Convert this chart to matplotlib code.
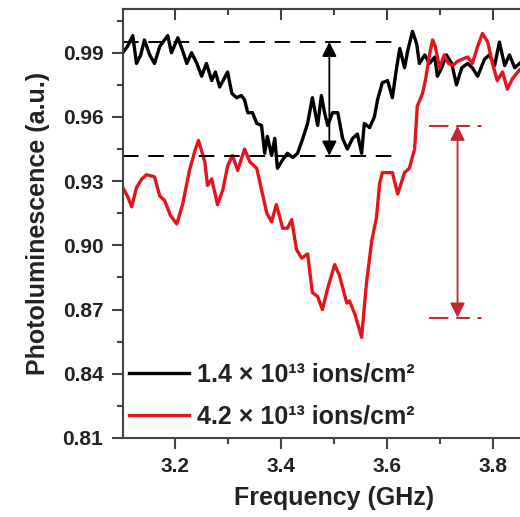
import matplotlib
matplotlib.use('Agg')
import matplotlib.pyplot as plt
from matplotlib.ticker import MultipleLocator

plt.rcParams['font.family'] = ['Liberation Sans', 'DejaVu Sans']
plt.rcParams['font.weight'] = 'bold'

freq_low = [3.102, 3.111, 3.121, 3.128, 3.136, 3.143, 3.153, 3.162, 3.172, 3.181,
            3.187, 3.194, 3.206, 3.215, 3.223, 3.232, 3.242, 3.251, 3.260, 3.270,
            3.277, 3.285, 3.300, 3.308, 3.317, 3.326, 3.332, 3.338, 3.347, 3.355,
            3.364, 3.370, 3.375, 3.383, 3.389, 3.394, 3.404, 3.413, 3.423, 3.432,
            3.442, 3.451, 3.460, 3.470, 3.477, 3.483, 3.489, 3.498, 3.508, 3.517,
            3.526, 3.536, 3.545, 3.553, 3.558, 3.568, 3.577, 3.583, 3.592, 3.602,
            3.611, 3.619, 3.625, 3.634, 3.640, 3.649, 3.657, 3.662, 3.672, 3.681,
            3.691, 3.696, 3.704, 3.713, 3.723, 3.732, 3.742, 3.753, 3.762, 3.772,
            3.785, 3.794, 3.804, 3.813, 3.823, 3.832, 3.842, 3.851]
pl_low = [0.990, 0.993, 0.998, 0.985, 0.989, 0.996, 0.989, 0.985, 0.993, 0.996,
          0.998, 0.990, 0.997, 0.991, 0.985, 0.990, 0.985, 0.979, 0.985, 0.977,
          0.981, 0.974, 0.981, 0.971, 0.969, 0.970, 0.968, 0.962, 0.962, 0.957,
          0.956, 0.943, 0.951, 0.942, 0.950, 0.936, 0.940, 0.943, 0.941, 0.943,
          0.950, 0.957, 0.969, 0.956, 0.970, 0.962, 0.956, 0.962, 0.962, 0.950,
          0.945, 0.950, 0.952, 0.943, 0.957, 0.955, 0.960, 0.968, 0.976, 0.977,
          0.969, 0.983, 0.992, 0.983, 0.991, 1.000, 0.994, 0.985, 0.989, 0.985,
          0.988, 0.979, 0.983, 0.989, 0.985, 0.975, 0.983, 0.985, 0.983, 0.979,
          0.987, 0.989, 0.984, 0.995, 0.984, 0.989, 0.983, 0.985]

freq_high = [3.102, 3.111, 3.119, 3.128, 3.138, 3.147, 3.162, 3.172, 3.181, 3.192,
             3.204, 3.215, 3.228, 3.238, 3.245, 3.257, 3.262, 3.270, 3.281, 3.291,
             3.300, 3.309, 3.319, 3.332, 3.342, 3.355, 3.364, 3.374, 3.383, 3.392,
             3.404, 3.413, 3.421, 3.430, 3.440, 3.451, 3.460, 3.470, 3.479, 3.489,
             3.502, 3.511, 3.525, 3.530, 3.540, 3.553, 3.562, 3.572, 3.581, 3.587,
             3.592, 3.602, 3.611, 3.621, 3.634, 3.643, 3.653, 3.658, 3.668, 3.674,
             3.681, 3.687, 3.692, 3.700, 3.709, 3.717, 3.725, 3.734, 3.743, 3.753,
             3.762, 3.772, 3.781, 3.791, 3.800, 3.809, 3.819, 3.828, 3.838, 3.851]
pl_high = [0.927, 0.923, 0.918, 0.927, 0.931, 0.933, 0.932, 0.923, 0.921, 0.914,
           0.910, 0.919, 0.935, 0.944, 0.949, 0.939, 0.928, 0.931, 0.919, 0.926,
           0.937, 0.942, 0.935, 0.945, 0.939, 0.936, 0.926, 0.915, 0.911, 0.919,
           0.908, 0.908, 0.912, 0.898, 0.894, 0.896, 0.878, 0.876, 0.870, 0.880,
           0.891, 0.886, 0.873, 0.874, 0.868, 0.857, 0.882, 0.902, 0.913, 0.929,
           0.934, 0.934, 0.934, 0.924, 0.934, 0.936, 0.945, 0.965, 0.971, 0.978,
           0.989, 0.996, 0.993, 0.983, 0.989, 0.985, 0.984, 0.986, 0.987, 0.988,
           0.985, 0.993, 0.999, 0.995, 0.985, 0.977, 0.981, 0.973, 0.978, 0.982]

labels = ['1.4 × 10¹³ ions/cm²', '4.2 × 10¹³ ions/cm²']

# Hilfslinien: Niveaus und Pfeile
black_levels = [0.9951, 0.9419]
black_span = [3.102, 3.615]
black_arrow_x = 3.492
red_levels = [0.9559, 0.8662]
red_span = [3.681, 3.789]
red_arrow_x = 3.734

fig = plt.figure(figsize=(5.2, 5.17), dpi=100)
ax = fig.add_axes([0.236, 0.153, 0.813, 0.8298])

ax.plot(freq_low, pl_low, color='black', lw=2.4, label=labels[0])
ax.plot(freq_high, pl_high, color='#e3141b', lw=2.4, label=labels[1])

for lev in black_levels:
    ax.plot(black_span, [lev, lev], color='black', lw=1.4, dashes=(8, 5))
for lev in red_levels:
    ax.plot(red_span, [lev, lev], color='#c0262c', lw=1.4, dashes=(10, 4, 7, 4, 2, 4))

ax.annotate('', xy=(black_arrow_x, black_levels[0]), xytext=(black_arrow_x, black_levels[1]),
            arrowprops=dict(arrowstyle='<|-|>', color='black', lw=1.3,
                            mutation_scale=22, shrinkA=0, shrinkB=0))
ax.annotate('', xy=(red_arrow_x, red_levels[0]), xytext=(red_arrow_x, red_levels[1]),
            arrowprops=dict(arrowstyle='<|-|>', color='#c0262c', lw=1.3,
                            mutation_scale=22, shrinkA=0, shrinkB=0))

ax.set_xlim(3.102, 3.9)
ax.set_ylim(0.81, 1.0105)
ax.xaxis.set_major_locator(MultipleLocator(0.2))
ax.xaxis.set_minor_locator(MultipleLocator(0.1))
ax.yaxis.set_major_locator(MultipleLocator(0.03))
ax.yaxis.set_minor_locator(MultipleLocator(0.015))
ax.xaxis.set_major_formatter(plt.FormatStrFormatter('%.1f'))
ax.yaxis.set_major_formatter(plt.FormatStrFormatter('%.2f'))

for sp in ax.spines.values():
    sp.set_color('#444444')
    sp.set_linewidth(1.5)

ax.tick_params(which='major', length=8, width=1.5, color='#444444',
               labelsize=15, labelcolor='#222222', pad=6)
ax.tick_params(which='minor', length=4.5, width=1.5, color='#444444')

top = ax.secondary_xaxis('top')
top.xaxis.set_major_locator(MultipleLocator(0.2))
top.xaxis.set_minor_locator(MultipleLocator(0.1))
top.tick_params(which='major', direction='in', length=8, width=1.5, color='#444444', labeltop=False)
top.tick_params(which='minor', direction='in', length=4.5, width=1.5, color='#444444')
top.spines['top'].set_color('#444444')
top.spines['top'].set_linewidth(1.5)

ax.set_xlabel('Frequency (GHz)', fontsize=18, fontweight='bold', color='#222222', labelpad=7)
ax.set_ylabel('Photoluminescence (a.u.)', fontsize=18, fontweight='bold', color='#222222', labelpad=9)

leg = ax.legend(loc='lower left', bbox_to_anchor=(0.015, 0.022), frameon=False,
                fontsize=18, handlelength=2.4, handletextpad=0.3, labelspacing=0.7,
                borderpad=0, borderaxespad=0)
for t in leg.get_texts():
    t.set_color('#222222')

fig.savefig('out.png', dpi=100)
